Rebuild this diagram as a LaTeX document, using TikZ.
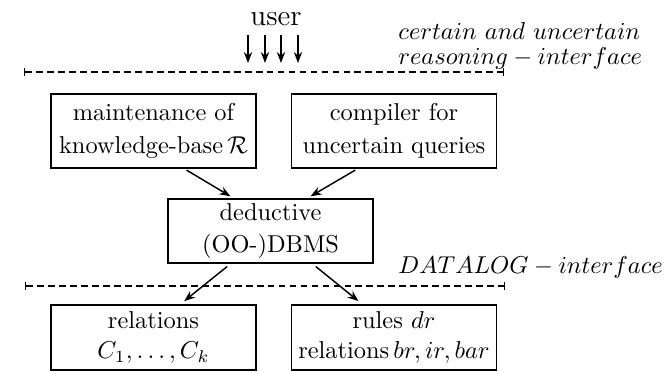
\documentclass[tikz,border=0pt]{standalone}
\usepackage{amsmath, amssymb}
\usepackage{tikz}
\usetikzlibrary{arrows.meta, calc, positioning}
\tikzset{
  sysbox/.style   = {draw, line width=0.8pt, minimum width=84pt, inner xsep=1pt,
                     inner ysep=2pt, align=center, font=\normalsize},
  ifline/.style   = {{Bar[width=3pt]}-{Bar[width=3pt]}, line width=0.6pt,
                     dash pattern=on 2.8pt off 1.7pt},
  iflab/.style    = {anchor=west, align=left, inner sep=0pt},
  userarr/.style  = {-{Stealth[length=4.5pt, width=3.4pt]}, line width=0.7pt},
  flowarr/.style  = {-{Stealth[length=4.5pt, width=3.4pt]}, line width=0.6pt},
}

\begin{document}
\begin{tikzpicture}[x=0.0144cm, y=-0.0144cm]
  \useasboundingbox (0,0) rectangle (669,372);
  % user and the reasoning interface
  \node[font=\large, inner sep=0pt] (user) at (276,19) {user};
  \foreach \i/\x in {1/248, 2/265, 3/281, 4/298} {
    \coordinate (u\i) at (\x,35);
    \draw[userarr] (u\i) -- ++(0,28);
  }
  \coordinate (ifAL) at (24,72);
  \coordinate (ifAR) at (504,72);
  \draw[ifline] (ifAL) -- (ifAR);
  \node[iflab] (ifAtxt) at (398,46) {$certain\ and\ uncertain$\\[-2pt]$reasoning-interface$};
  % upper boxes
  \node[sysbox, minimum height=30pt] (maint) at (153.5,131)
    {maintenance of\\[1.5pt]knowledge-base\,$\mathcal{R}$};
  \node[sysbox, minimum height=30pt] (comp) at (394,131)
    {compiler for\\[1.5pt]uncertain queries};
  \node[sysbox, minimum height=26pt] (dbms) at (270.5,231)
    {deductive\\[1pt](OO-)DBMS};
  \draw[flowarr, shorten <=1.2pt, shorten >=1.2pt]
    ([xshift=12.5pt]maint.south) -- ([xshift=-15.4pt]dbms.north);
  \draw[flowarr, shorten <=1.2pt, shorten >=1.2pt]
    ([xshift=-14.8pt]comp.south) -- ([xshift=15.4pt]dbms.north);
  % datalog interface
  \coordinate (ifBL) at (25,286);
  \coordinate (ifBR) at (505,286);
  \draw[ifline] (ifBL) -- (ifBR);
  \node[iflab] (ifBtxt) at (398,267) {$DATALOG-interface$};
  % lower boxes
  \node[sysbox, minimum height=26.5pt] (rel) at (153.5,337.5)
    {relations\\[0.5pt]$C_1,\ldots,C_k$};
  \node[sysbox, minimum height=26.5pt] (rules) at (394,337.5)
    {rules $dr$\\[0.5pt]relations\,$br,ir,bar$};
  \draw[flowarr, shorten <=1.5pt, shorten >=2pt]
    ([xshift=-16.6pt]dbms.south) -- ([xshift=11pt]rel.north);
  \draw[flowarr, shorten <=1.5pt, shorten >=2pt]
    ([xshift=17.4pt]dbms.south) -- ([xshift=-13pt]rules.north);
\end{tikzpicture}
\end{document}
